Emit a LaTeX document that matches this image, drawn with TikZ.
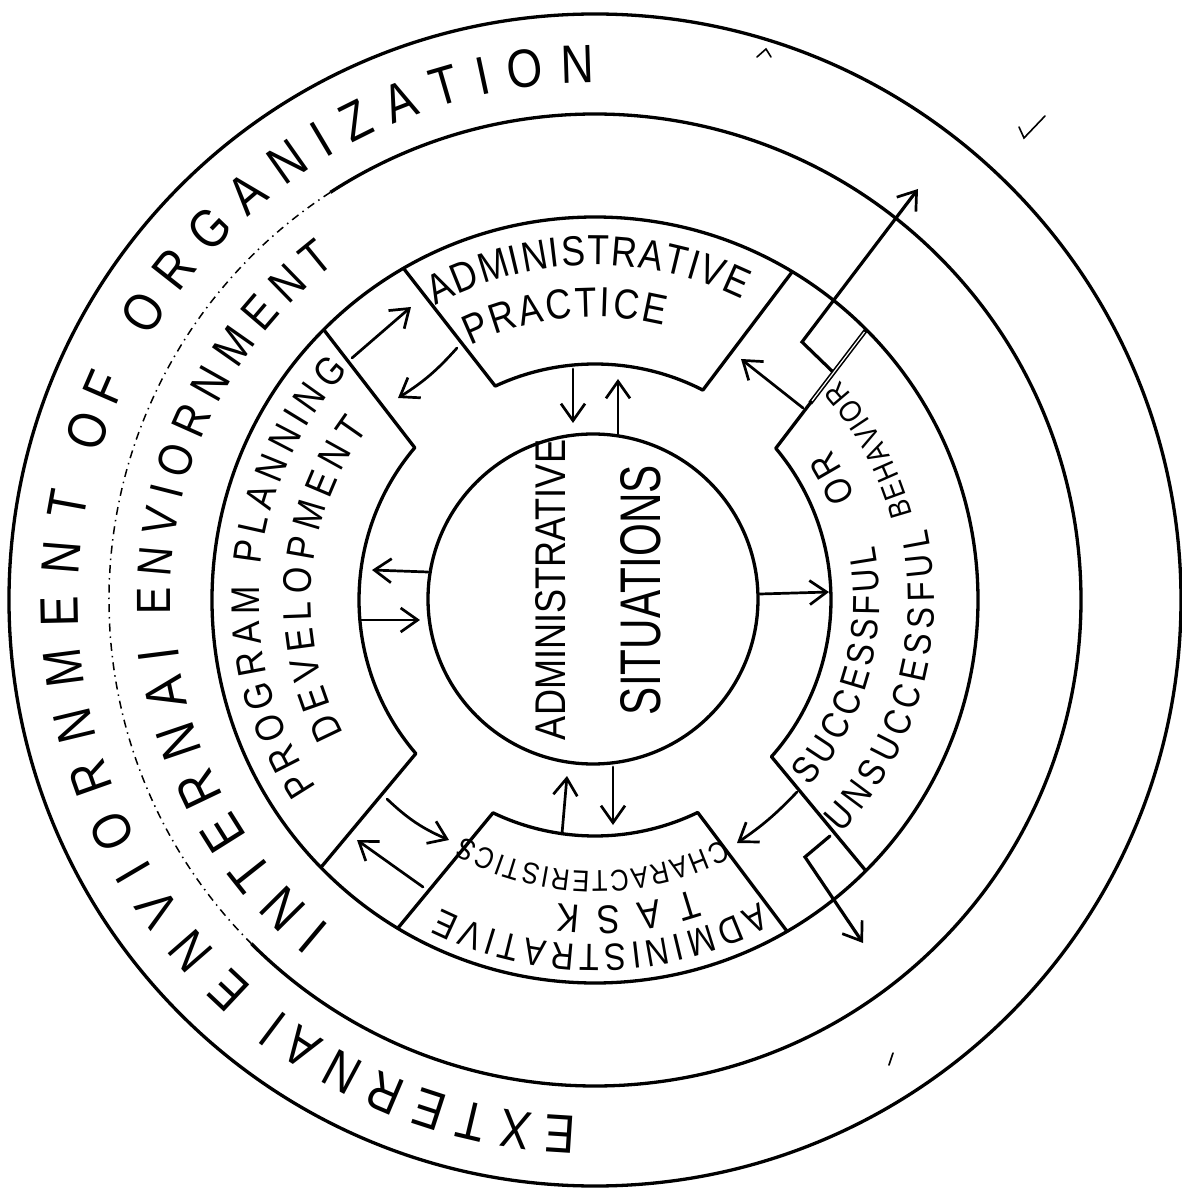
\documentclass[tikz,border=0pt]{standalone}
\usepackage{fontspec}
\usepackage{graphicx}
\setmainfont{Liberation Sans}
\newfontfamily\hand{Liberation Sans}[FakeStretch=0.85]
\usetikzlibrary{decorations.text,arrows.meta,calc}
\tikzset{
  img/.style={shift={(-595,600)},yscale=-1},
  band/.style={line width=3.3pt},
  seg/.style={line width=3.3pt, line join=round},
  arr/.style={line width=2.7pt, line cap=round, -{Straight Barb[length=17pt,width=24pt,line width=2.7pt]}},
  marks/.style={line width=1.6pt, line cap=round},
  inner/.style={inner sep=0pt, rotate=90}
}
\newcommand\arctext[5]{\path[decorate,decoration={text along path,text align={fit to path},text={|\hand\fontsize{#4}{#4}\selectfont|#5}}] (#2:#1) arc[start angle=#2,end angle=#3,radius=#1];}
\begin{document}
\begin{tikzpicture}[x=1pt,y=1pt]
\useasboundingbox (-595,-596) rectangle (587,600);
\fill[white] (-595,-596) rectangle (587,600);
% circles
\draw[band] (0,0) circle[radius=586];
\draw[band] (-135:486) arc[start angle=-135,end angle=123,radius=486];
\draw[line width=1.5pt, dash pattern=on 8pt off 5pt on 1.5pt off 5pt] (123:486) arc[start angle=123,end angle=225,radius=486];
\draw[band] (0,0) circle[radius=383];
\draw[band] (-2,1) circle[radius=165];
% segments
\draw[seg] (120:383) -- (115:236) arc[start angle=115,end angle=62.8,radius=236] -- (59:383);
\draw[seg] (135.1:383) -- (139.8:236) arc[start angle=139.8,end angle=220.6,radius=236] -- (224.3:383);
\coordinate (sA) at (44.9:383);
\coordinate (sB) at (40:236);
\draw[seg] (sA) -- (sB) arc[start angle=40,end angle=-41.6,radius=236] -- (-45:383);
\draw[line width=4.4pt] (sA) -- ($(sA)!0.62!(sB)$);
\draw[white,line width=1.2pt] ($(sA)!0.02!(sB)$) -- ($(sA)!0.6!(sB)$);
\draw[seg] (239:383) -- (244.4:236) arc[start angle=244.4,end angle=295.8,radius=236] -- (300.1:383);
% arrow end points (image coordinates)
\begin{scope}[img]
\coordinate (a1s) at (428,572); \coordinate (a1e) at (372,570);
\coordinate (a2s) at (360,620); \coordinate (a2e) at (420,620);
\coordinate (a3s) at (573,369); \coordinate (a3e) at (573,423);
\coordinate (a4s) at (618,434); \coordinate (a4e) at (618,379);
\coordinate (a5s) at (760,594); \coordinate (a5e) at (829,592);
\coordinate (a6s) at (562,834); \coordinate (a6e) at (567,776);
\coordinate (a7s) at (613,767); \coordinate (a7e) at (613,825);
\coordinate (b1s) at (457,348); \coordinate (b1e) at (398,398);
\coordinate (b2s) at (352,358); \coordinate (b2e) at (411,307);
\coordinate (b3s) at (803,408); \coordinate (b3e) at (741,359);
\coordinate (b4s) at (797,792); \coordinate (b4e) at (737,843);
\coordinate (b5s) at (387,799); \coordinate (b5e) at (449,840);
\coordinate (b6s) at (423,887); \coordinate (b6e) at (357,840);
\coordinate (c1s) at (832,371); \coordinate (c1m) at (802,342); \coordinate (c1e) at (918,189);
\coordinate (c2s) at (830,836); \coordinate (c2m) at (805,857); \coordinate (c2e) at (863,943);
\node[inner] (adm) at (551,590) {\resizebox{300pt}{30pt}{\hand ADMINISTRATIVE}};
\node[inner] (sit) at (641,590) {\resizebox{250pt}{40pt}{\hand SITUATIONS}};
\draw[marks] (1019,127) -- (1024,138) -- (1045,116);
\draw[marks] (889,1065) -- (893,1053);
\draw[marks] (757,57) -- (766,49) -- (771,57);
\end{scope}
\draw[arr] (a1s) -- (a1e);
\draw[arr] (a2s) -- (a2e);
\draw[arr] (a3s) -- (a3e);
\draw[arr] (a4s) -- (a4e);
\draw[arr] (a5s) -- (a5e);
\draw[arr] (a6s) -- (a6e);
\draw[arr] (a7s) -- (a7e);
\draw[arr] (b1s) to[bend left=8] (b1e);
\draw[arr] (b2s) -- (b2e);
\draw[arr] (b3s) -- (b3e);
\draw[arr] (b4s) to[bend left=6] (b4e);
\draw[arr] (b5s) to[bend right=10] (b5e);
\draw[arr] (b6s) -- (b6e);
\draw[arr,line width=3.2pt,line join=miter] (c1s) -- (c1m) -- (c1e);
\draw[arr,line width=3.2pt,line join=miter] (c2s) -- (c2m) -- (c2e);
% texts along the rings
\arctext{517}{268}{232.5}{54}{EXTERNAl}
\arctext{517}{228.5}{168.2}{54}{ENVIORNMENT}
\arctext{517}{163.5}{155}{54}{OF}
\arctext{517}{149.5}{90}{54}{ORGANIZATION}
\arctext{420}{231}{186.5}{56}{INTERNAl}
\arctext{425}{182}{127.5}{48}{ENVIORNMENT}
\arctext{335}{118.5}{64}{42}{ADMINISTRATIVE}
\arctext{283}{116}{76}{42}{PRACTICE}
\arctext{336}{214}{137}{40}{PROGRAM PLANNING}
\arctext{284}{208}{143}{40}{DEVELOPMENT}
\arctext{284.5}{-41}{11}{38}{SUCCESSFUL}
\arctext{279.5}{21.5}{32.5}{38}{OR}
\arctext{339.5}{-43.5}{12}{38}{UNSUCCESSFUL}
\arctext{328.5}{15}{42}{31}{BEHAVIOR}
\arctext{344.5}{298.5}{243.5}{38}{ADMINISTRATIVE}
\arctext{306}{289}{263}{40}{TASK}
\arctext{271}{298}{241}{30}{CHARACTERISTICS}
\end{tikzpicture}
\end{document}
